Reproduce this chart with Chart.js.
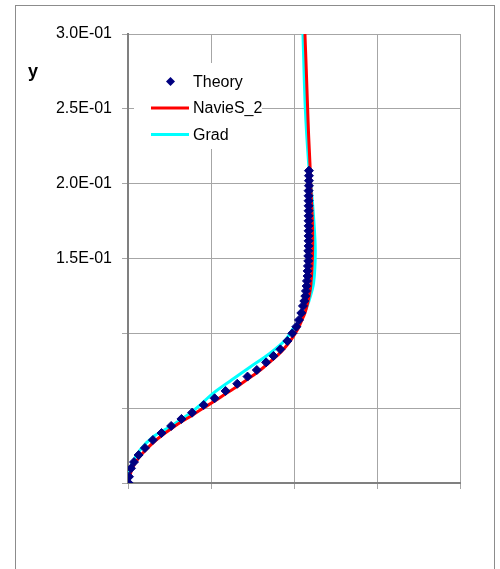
<!DOCTYPE html>
<html>
<head>
<meta charset="utf-8">
<script src="https://cdn.jsdelivr.net/npm/chart.js@4.4.1/dist/chart.umd.min.js"></script>
<style>
  html, body { margin: 0; padding: 0; background: #fff; }
</style>
</head>
<body>
<canvas id="myChart" width="500" height="569"></canvas>
<script>
// values (x has no labels, taken as 0..1)
const theory_x = [0.002, 0.003, 0.009, 0.018, 0.032, 0.051, 0.075, 0.101, 0.130, 0.161,
  0.193, 0.228, 0.261, 0.294, 0.329, 0.360, 0.388, 0.416, 0.438, 0.459,
  0.480, 0.495, 0.507, 0.515, 0.522, 0.527, 0.531, 0.534, 0.536, 0.538,
  0.539, 0.541, 0.541, 0.542, 0.543, 0.543, 0.543, 0.544, 0.544, 0.544,
  0.544, 0.544, 0.544, 0.544, 0.544, 0.544, 0.544, 0.544, 0.544, 0.545,
  0.545, 0.545, 0.545];
const theory_y = [0.0000, 0.0042, 0.0098, 0.0140, 0.0187, 0.0234, 0.0287, 0.0334, 0.0381, 0.0428,
  0.0470, 0.0521, 0.0566, 0.0615, 0.0663, 0.0711, 0.0755, 0.0806, 0.0849, 0.0893,
  0.0949, 0.1000, 0.1044, 0.1089, 0.1136, 0.1183, 0.1216, 0.1249, 0.1283, 0.1316,
  0.1350, 0.1383, 0.1417, 0.1450, 0.1484, 0.1517, 0.1551, 0.1584, 0.1618, 0.1651,
  0.1685, 0.1718, 0.1752, 0.1785, 0.1819, 0.1852, 0.1886, 0.1919, 0.1953, 0.1986,
  0.2020, 0.2053, 0.2087];

const navier_x = [0.000, 0.004, 0.010, 0.019, 0.033, 0.052, 0.076, 0.102, 0.131, 0.162,
  0.194, 0.229, 0.262, 0.295, 0.330, 0.361, 0.389, 0.417, 0.440, 0.461,
  0.483, 0.499, 0.512, 0.522, 0.533, 0.541, 0.549, 0.554, 0.556, 0.556,
  0.554, 0.551, 0.548, 0.544, 0.541, 0.537, 0.533];
const navier_y = [0.0000, 0.0030, 0.0081, 0.0123, 0.0170, 0.0217, 0.0270, 0.0317, 0.0364, 0.0411,
  0.0453, 0.0504, 0.0549, 0.0598, 0.0646, 0.0694, 0.0738, 0.0789, 0.0832, 0.0876,
  0.0932, 0.0983, 0.1030, 0.1080, 0.1136, 0.1203, 0.1290, 0.1423, 0.1557, 0.1690,
  0.1824, 0.1958, 0.2138, 0.2325, 0.2506, 0.2759, 0.3000];

const grad_x = [0.000, 0.005, 0.014, 0.036, 0.075, 0.127, 0.187, 0.217, 0.256, 0.312,
  0.368, 0.425, 0.474, 0.494, 0.519, 0.531, 0.544, 0.559, 0.564, 0.559,
  0.551, 0.544, 0.534, 0.527];
const grad_y = [0.0000, 0.0073, 0.0140, 0.0220, 0.0307, 0.0376, 0.0466, 0.0521, 0.0599, 0.0688,
  0.0775, 0.0862, 0.0955, 0.1022, 0.1089, 0.1136, 0.1209, 0.1336, 0.1557, 0.1777,
  0.1991, 0.2138, 0.2506, 0.3000];

const y_tick_labels = ["", "", "", "1.5E-01", "2.0E-01", "2.5E-01", "3.0E-01"];

const toPoints = (xs, ys) => xs.map((x, i) => ({ x: x, y: ys[i] }));

const FONT = "'Liberation Sans', Arial, sans-serif";

// outer frame, the "y" label and the legend box inside the plot
const decorations = {
  id: "decorations",
  beforeDraw(chart) {
    const ctx = chart.ctx;
    ctx.save();
    ctx.strokeStyle = "#8c8c8c";
    ctx.lineWidth = 1;
    ctx.strokeRect(15.5, 5.5, 479, 600);
    ctx.restore();
  },
  beforeDatasetsDraw(chart) {
    const ctx = chart.ctx;
    ctx.save();
    ctx.fillStyle = "#fff";
    ctx.fillRect(134, 63, 128, 86);
    ctx.font = "16px " + FONT;
    ctx.textBaseline = "middle";
    ctx.fillStyle = "#000";
    chart.data.datasets.forEach((ds, i) => {
      const y = 81.5 + i * 26.5;
      if (ds.showLine) {
        ctx.strokeStyle = ds.borderColor;
        ctx.lineWidth = ds.borderWidth;
        ctx.beginPath();
        ctx.moveTo(151, y);
        ctx.lineTo(189, y);
        ctx.stroke();
      } else {
        ctx.fillStyle = ds.backgroundColor;
        ctx.beginPath();
        ctx.moveTo(170.5, y - 4.5);
        ctx.lineTo(175, y);
        ctx.lineTo(170.5, y + 4.5);
        ctx.lineTo(166, y);
        ctx.closePath();
        ctx.fill();
      }
      ctx.fillStyle = "#000";
      ctx.fillText(ds.label, 193, y + 1);
    });
    ctx.font = "bold 18px " + FONT;
    ctx.textAlign = "center";
    ctx.fillText("y", 33, 72);
    ctx.restore();
  },
};

const data = {
  datasets: [
    {
      label: "Theory",
      data: toPoints(theory_x, theory_y),
      showLine: false,
      pointStyle: "rectRot",
      pointRadius: 4.5,
      pointBorderWidth: 1,
      backgroundColor: "#000080",
      borderColor: "#000080",
    },
    {
      label: "NavieS_2",
      data: toPoints(navier_x, navier_y),
      showLine: true,
      borderColor: "#ff0000",
      borderWidth: 3,
      pointRadius: 0,
      tension: 0.3,
    },
    {
      label: "Grad",
      data: toPoints(grad_x, grad_y),
      showLine: true,
      borderColor: "#00ffff",
      borderWidth: 3,
      pointRadius: 0,
      tension: 0.3,
    },
  ],
};

const config = {
  type: "scatter",
  data,
  plugins: [decorations],
  options: {
    responsive: false,
    animation: false,
    devicePixelRatio: 1,
    layout: { padding: { left: 0, top: 34, right: 40, bottom: 80 } },
    plugins: { legend: { display: false }, tooltip: { enabled: false } },
    events: [],
    scales: {
      x: {
        type: "linear",
        min: 0,
        max: 1,
        ticks: { stepSize: 0.25, callback: () => "" },
        grid: { color: "#a6a6a6", tickLength: 6 },
        border: { color: "#808080", width: 2 },
        afterFit: (scale) => { scale.height = 6; },
      },
      y: {
        min: 0,
        max: 0.3,
        ticks: {
          stepSize: 0.05,
          color: "#000",
          padding: 10,
          font: { family: FONT, size: 16 },
          callback: (v, i) => y_tick_labels[i],
        },
        grid: { color: "#a6a6a6", tickLength: 6 },
        border: { color: "#808080", width: 2 },
        afterFit: (scale) => { scale.width = 128; },
      },
    },
  },
};

const myChart = new Chart(document.getElementById("myChart"), config);
</script>
</body>
</html>
